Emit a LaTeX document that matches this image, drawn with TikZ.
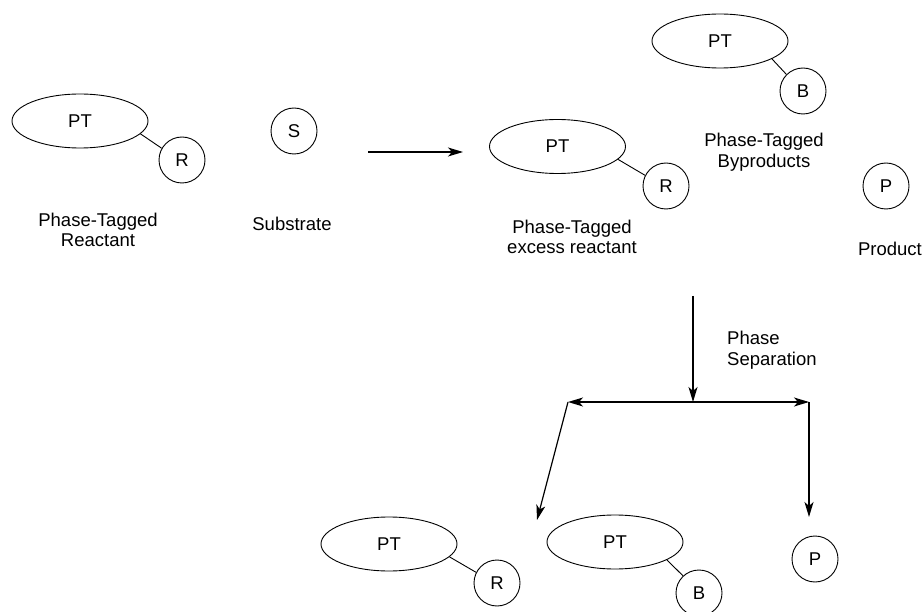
\documentclass[tikz,border=0pt]{standalone}
\usepackage{fontspec}
\setmainfont{Liberation Sans}
\usetikzlibrary{arrows.meta,shapes.geometric}
\begin{document}
\begin{tikzpicture}[x=1pt,y=-1pt,
  font=\fontsize{18.5}{20.5}\selectfont,
  tag/.style={draw,ellipse,line width=0.9pt,minimum width=136pt,minimum height=54pt,inner sep=0pt},
  grp/.style={draw,circle,line width=0.9pt,minimum size=46pt,inner sep=0pt},
  bond/.style={line width=0.9pt},
  caption/.style={align=center,inner sep=0pt},
  flow/.style={line width=1.2pt,-{Stealth[length=15pt,width=9pt,inset=4pt]}},
  flowboth/.style={line width=1.2pt,{Stealth[length=15pt,width=9pt,inset=4pt]}-{Stealth[length=15pt,width=9pt,inset=4pt]}}]
\useasboundingbox (0,0) rectangle (924,612);

% reactants
\node[tag] (pt1) at (80,121) {PT};
\node[grp] (r1) at (182,160) {R};
\draw[bond] (pt1.-12) -- (r1.150);
\node[caption] (lab1) at (98,230) {Phase-Tagged\\Reactant};

\node[grp] (s) at (294,131) {S};
\node[caption] (lab2) at (292,224) {Substrate};

% reaction arrow
\coordinate (a1) at (368,152);
\coordinate (a2) at (463,152);
\draw[flow] (a1) -- (a2);

% reaction mixture
\node[tag] (pt2) at (557.5,146.5) {PT};
\node[grp] (r2) at (666,186) {R};
\draw[bond] (pt2.-12) -- (r2.153);
\node[caption] (lab3) at (572,237) {Phase-Tagged\\excess reactant};

\node[tag] (pt3) at (720,41) {PT};
\node[grp] (b1) at (803,91) {B};
\draw[bond] (pt3.-19) -- (b1.135);
\node[caption] (lab4) at (764,152) {Phase-Tagged\\Byproducts};

\node[grp] (p1) at (886,186) {P};
\node[caption] (lab5) at (890,249) {Product};

% phase separation
\coordinate (v1) at (693,296);
\coordinate (v2) at (693,402);
\draw[flow] (v1) -- (v2);
\node[caption,align=left,anchor=west] (lab6) at (727,350) {Phase\\Separation};

\coordinate (hl) at (568,402);
\coordinate (hr) at (809,402);
\draw[flowboth] (hl) -- (hr);
\coordinate (dl) at (537,520);
\coordinate (dr) at (809,517);
\draw[flow] (hl) -- (dl);
\draw[flow] (hr) -- (dr);

% separated phases
\node[tag] (pt4) at (389,544) {PT};
\node[grp] (r3) at (497,583) {R};
\draw[bond] (pt4.-12) -- (r3.153);

\node[tag] (pt5) at (615,542) {PT};
\node[grp] (b2) at (699,593) {B};
\draw[bond] (pt5.-19) -- (b2.133);

\node[grp] (p2) at (815,559) {P};
\end{tikzpicture}
\end{document}
